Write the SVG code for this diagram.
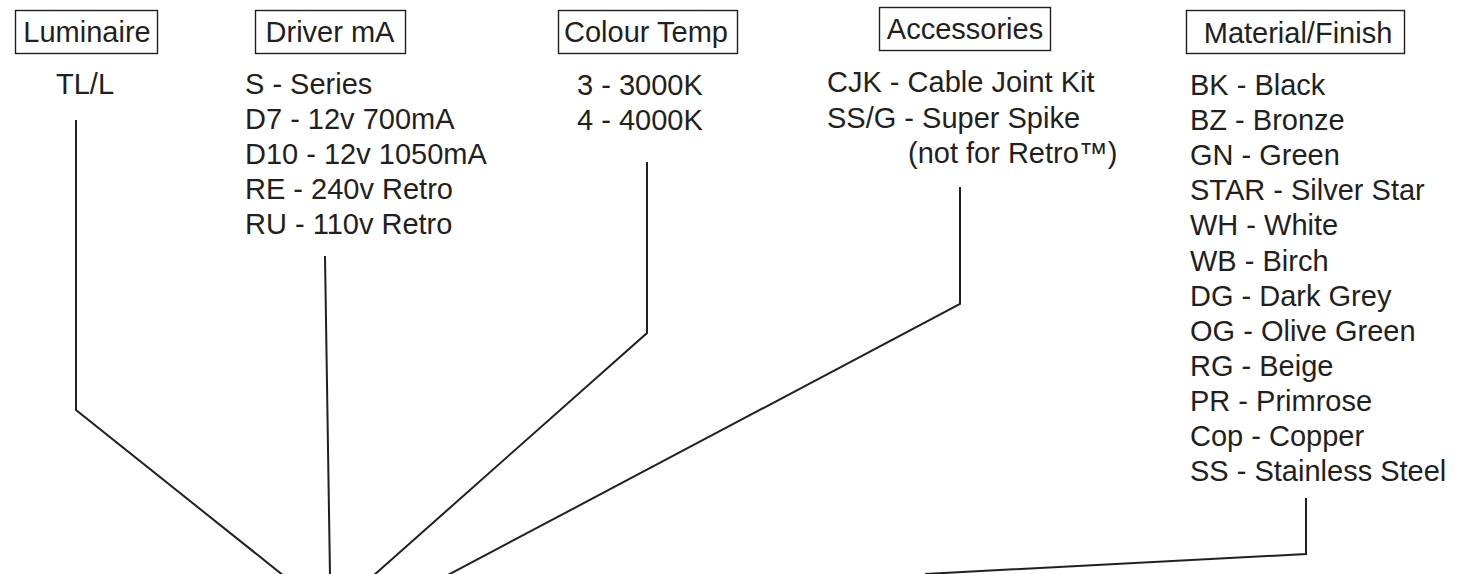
<svg xmlns="http://www.w3.org/2000/svg" width="1465" height="574" viewBox="0 0 1465 574">
  <style>
    text { font-family: "Liberation Sans", Arial, sans-serif; font-size: 29px; fill: #231f20; }
    .lbl { text-anchor: middle; }
    .box { fill: none; stroke: #231f20; stroke-width: 1.4; }
    .conn { fill: none; stroke: #231f20; stroke-width: 2; stroke-linejoin: miter; }
  </style>
  <rect width="1465" height="574" fill="#ffffff"/>

  <g id="luminaire">
    <rect class="box" x="15.5" y="10.5" width="142" height="43"/>
    <text class="lbl" x="87" y="42">Luminaire</text>
    <text x="56" y="94">TL/L</text>
  </g>

  <g id="driver">
    <rect class="box" x="255.5" y="10.5" width="150" height="43"/>
    <text class="lbl" x="330" y="42">Driver mA</text>
    <text x="245" y="94">S - Series</text>
    <text x="245" y="129">D7 - 12v 700mA</text>
    <text x="245" y="164">D10 - 12v 1050mA</text>
    <text x="245" y="199">RE - 240v Retro</text>
    <text x="245" y="234">RU - 110v Retro</text>
  </g>

  <g id="colour-temp">
    <rect class="box" x="558.5" y="10.5" width="179" height="43"/>
    <text class="lbl" x="646" y="42">Colour Temp</text>
    <text x="577" y="95">3 - 3000K</text>
    <text x="577" y="130">4 - 4000K</text>
  </g>

  <g id="accessories">
    <rect class="box" x="879.5" y="7.5" width="171" height="43"/>
    <text class="lbl" x="965" y="39">Accessories</text>
    <text x="827" y="92">CJK - Cable Joint Kit</text>
    <text x="827" y="127.5">SS/G - Super Spike</text>
    <text x="908" y="163">(not for Retro™)</text>
  </g>

  <g id="material-finish">
    <rect class="box" x="1186.5" y="10.5" width="218" height="43"/>
    <text class="lbl" x="1298" y="43">Material/Finish</text>
    <text x="1190" y="95">BK - Black</text>
    <text x="1190" y="130.1">BZ - Bronze</text>
    <text x="1190" y="165.2">GN - Green</text>
    <text x="1190" y="200.3">STAR - Silver Star</text>
    <text x="1190" y="235.4">WH - White</text>
    <text x="1190" y="270.5">WB - Birch</text>
    <text x="1190" y="305.6">DG - Dark Grey</text>
    <text x="1190" y="340.7">OG - Olive Green</text>
    <text x="1190" y="375.8">RG - Beige</text>
    <text x="1190" y="410.9">PR - Primrose</text>
    <text x="1190" y="446">Cop - Copper</text>
    <text x="1190" y="481.1">SS - Stainless Steel</text>
  </g>

  <g id="connectors">
    <polyline class="conn" points="76,120 76,410 284,576"/>
    <polyline class="conn" points="325,256 330,576"/>
    <polyline class="conn" points="647,162 647,333 373,576"/>
    <polyline class="conn" points="960,187 960,304 446,576"/>
    <polyline class="conn" points="1306,498 1306,554 925,574"/>
  </g>
</svg>
